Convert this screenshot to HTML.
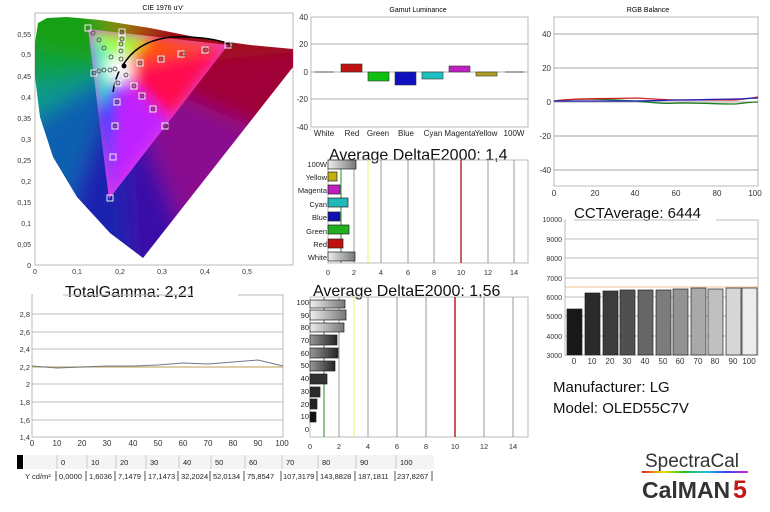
<!DOCTYPE html>
<html><head><meta charset="utf-8"><style>
body{margin:0;background:#fff;}
svg{display:block;font-family:"Liberation Sans",sans-serif;}
</style></head><body>
<svg width="770" height="512" viewBox="0 0 770 512" xmlns="http://www.w3.org/2000/svg">
<defs>
<clipPath id="loc"><path d="M143,258 L110,233 L77,197 L53,157 L40,117 L35,77 L35,43 L38,23 L47,18 L67,17 L100,20 L150,28 L200,38 L250,45 L293,49 L293,67 Z"/></clipPath>
<clipPath id="tri"><path d="M88,29 L228,45 L109,199 Z"/></clipPath>
<filter id="bl" x="-20%" y="-20%" width="140%" height="140%"><feGaussianBlur stdDeviation="10"/></filter>
<filter id="bl2" x="-20%" y="-20%" width="140%" height="140%"><feGaussianBlur stdDeviation="7"/></filter>
<linearGradient id="gw" x1="0" x2="1"><stop offset="0" stop-color="#eee"/><stop offset="1" stop-color="#777"/></linearGradient>
<linearGradient id="gk" x1="0" x2="1"><stop offset="0" stop-color="#999"/><stop offset="1" stop-color="#222"/></linearGradient>
<linearGradient id="rb" x1="0" x2="1"><stop offset="0" stop-color="#e02020"/><stop offset=".2" stop-color="#f0e000"/><stop offset=".4" stop-color="#20c020"/><stop offset=".6" stop-color="#20c0e0"/><stop offset=".8" stop-color="#4040f0"/><stop offset="1" stop-color="#e020e0"/></linearGradient>
</defs>

<!-- CIE -->
<text x="163" y="10" font-size="7" text-anchor="middle">CIE 1976 u'v'</text>
<rect x="35" y="13" width="258" height="252" fill="none" stroke="#bbb"/>
<g clip-path="url(#loc)">
 <g filter="url(#bl)">
  <path d="M119,69 L-100,100 L-100,20 Z" fill="#10a040"/>
  <path d="M119,69 L-100,20 L60,-100 Z" fill="#18a018"/>
  <path d="M119,69 L60,-100 L150,-100 Z" fill="#7a9010"/>
  <path d="M119,69 L150,-100 L260,-100 Z" fill="#a85010"/>
  <path d="M119,69 L260,-100 L420,40 Z" fill="#a00818"/>
  <path d="M119,69 L420,40 L420,200 Z" fill="#a00038"/>
  <path d="M119,69 L420,200 L250,400 Z" fill="#8a0a90"/>
  <path d="M119,69 L250,400 L140,400 Z" fill="#3a10a8"/>
  <path d="M119,69 L140,400 L0,400 Z" fill="#1a20b0"/>
  <path d="M119,69 L0,400 L-100,200 Z" fill="#1060b0"/>
  <path d="M119,69 L-100,200 L-100,100 Z" fill="#109888"/>
 </g>
</g>
<g clip-path="url(#tri)">
 <rect x="80" y="20" width="160" height="185" fill="#e040e0"/>
 <g filter="url(#bl2)">
  <path d="M119,69 L88,29 L150,36 Z" fill="#a0ff30"/>
  <path d="M119,69 L150,36 L228,45 Z" fill="#ff5000"/>
  <path d="M119,69 L228,45 L170,120 Z" fill="#ff0a50"/>
  <path d="M119,69 L170,120 L109,199 Z" fill="#c020ff"/>
  <path d="M119,69 L109,199 L98,110 Z" fill="#2040ff"/>
  <path d="M119,69 L98,110 L88,29 Z" fill="#30f0c0"/>
  <circle cx="119" cy="69" r="14" fill="#fff"/>
 </g>
</g>
<g font-size="7" fill="#333">
 <text x="31" y="37" text-anchor="end">0,55</text><text x="31" y="57" text-anchor="end">0,5</text><text x="31" y="79" text-anchor="end">0,45</text>
 <text x="31" y="100" text-anchor="end">0,4</text><text x="31" y="121" text-anchor="end">0,35</text><text x="31" y="142" text-anchor="end">0,3</text>
 <text x="31" y="163" text-anchor="end">0,25</text><text x="31" y="184" text-anchor="end">0,2</text><text x="31" y="205" text-anchor="end">0,15</text>
 <text x="31" y="226" text-anchor="end">0,1</text><text x="31" y="247" text-anchor="end">0,05</text><text x="31" y="268" text-anchor="end">0</text>
 <text x="35" y="274" text-anchor="middle">0</text><text x="77" y="274" text-anchor="middle">0,1</text><text x="120" y="274" text-anchor="middle">0,2</text>
 <text x="162" y="274" text-anchor="middle">0,3</text><text x="205" y="274" text-anchor="middle">0,4</text><text x="247" y="274" text-anchor="middle">0,5</text>
</g>
<path d="M113,92 Q116,73 125,62 Q140,40 172,37 Q207,36 230,44" fill="none" stroke="#000" stroke-width="1.5"/>
<g fill="none" stroke="#eee" stroke-width="1">
 <rect x="85" y="25" width="6" height="6"/><rect x="225" y="42" width="6" height="6"/><rect x="107" y="195" width="6" height="6"/><rect x="115" y="64" width="7" height="7" fill="#fff"/>
 <rect x="137" y="60" width="6" height="6"/><rect x="158" y="56" width="6" height="6"/><rect x="178" y="51" width="6" height="6"/><rect x="202" y="47" width="6" height="6"/>
 <rect x="115" y="80" width="6" height="6"/><rect x="114" y="99" width="6" height="6"/><rect x="112" y="123" width="6" height="6"/><rect x="110" y="154" width="6" height="6"/>
 <rect x="91" y="70" width="6" height="6"/><rect x="123" y="72" width="6" height="6"/><rect x="131" y="83" width="6" height="6"/><rect x="139" y="93" width="6" height="6"/><rect x="150" y="106" width="6" height="6"/><rect x="162" y="123" width="6" height="6"/>
 <rect x="119" y="29" width="6" height="6"/><rect x="119" y="36" width="6" height="6"/><rect x="118" y="41" width="6" height="6"/><rect x="118" y="48" width="6" height="6"/>
</g>
<g fill="none" stroke="#444" stroke-width=".8">
 <circle cx="93" cy="33" r="2"/><circle cx="99" cy="40" r="2"/><circle cx="104" cy="48" r="2"/><circle cx="111" cy="57" r="2"/>
 <circle cx="94" cy="73" r="2"/><circle cx="99" cy="71" r="2"/><circle cx="104" cy="70" r="2"/><circle cx="110" cy="70" r="2"/><circle cx="115" cy="69" r="2"/>
 <circle cx="122" cy="32" r="2"/><circle cx="122" cy="39" r="2"/><circle cx="121" cy="44" r="2"/><circle cx="121" cy="51" r="2"/><circle cx="121" cy="59" r="2"/>
 <circle cx="140" cy="63" r="2"/><circle cx="161" cy="59" r="2"/><circle cx="183" cy="54" r="2"/><circle cx="206" cy="50" r="2"/><circle cx="231" cy="45" r="2"/>
 <circle cx="126" cy="75" r="2"/><circle cx="134" cy="86" r="2"/><circle cx="142" cy="96" r="2"/><circle cx="153" cy="109" r="2"/><circle cx="166" cy="126" r="2"/>
 <circle cx="118" cy="83" r="2"/><circle cx="117" cy="102" r="2"/><circle cx="115" cy="126" r="2"/>
</g>
<circle cx="124" cy="66" r="2.5" fill="#000"/>

<!-- Gamut Luminance -->
<text x="418" y="12" font-size="7" text-anchor="middle">Gamut Luminance</text>
<rect x="311" y="17" width="217" height="110" fill="none" stroke="#bbb"/>
<g stroke="#999" stroke-width=".8"><line x1="311" y1="44" x2="528" y2="44"/><line x1="311" y1="72" x2="528" y2="72"/><line x1="311" y1="99" x2="528" y2="99"/></g>
<g font-size="8" fill="#333" text-anchor="end"><text x="308" y="20">40</text><text x="308" y="47">20</text><text x="308" y="75">0</text><text x="308" y="102">-20</text><text x="308" y="130">-40</text></g>
<line x1="315" y1="72" x2="334" y2="72" stroke="#555"/>
<line x1="505" y1="72" x2="524" y2="72" stroke="#555"/>
<rect x="341" y="64" width="21" height="8" fill="#c01010" stroke="#333" stroke-width=".6"/>
<rect x="368" y="72" width="21" height="9" fill="#10c010" stroke="#333" stroke-width=".6"/>
<rect x="395" y="72" width="21" height="13" fill="#1010c0" stroke="#333" stroke-width=".6"/>
<rect x="422" y="72" width="21" height="7" fill="#20c0c0" stroke="#333" stroke-width=".6"/>
<rect x="449" y="66" width="21" height="6" fill="#c020c0" stroke="#333" stroke-width=".6"/>
<rect x="476" y="72" width="21" height="4" fill="#b0a020" stroke="#333" stroke-width=".6"/>
<g font-size="8" fill="#222" text-anchor="middle"><text x="324" y="136">White</text><text x="352" y="136">Red</text><text x="378" y="136">Green</text><text x="406" y="136">Blue</text><text x="433" y="136">Cyan</text><text x="460" y="136">Magenta</text><text x="486" y="136">Yellow</text><text x="514" y="136">100W</text></g>

<!-- RGB Balance -->
<text x="648" y="12" font-size="7" text-anchor="middle">RGB Balance</text>
<rect x="554" y="17" width="204" height="169" fill="none" stroke="#bbb"/>
<g stroke="#888" stroke-width=".8"><line x1="554" y1="34" x2="758" y2="34"/><line x1="554" y1="68" x2="758" y2="68"/><line x1="554" y1="102" x2="758" y2="102"/><line x1="554" y1="136" x2="758" y2="136"/><line x1="554" y1="170" x2="758" y2="170"/></g>
<g font-size="8" fill="#333" text-anchor="end"><text x="551" y="37">40</text><text x="551" y="71">20</text><text x="551" y="105">0</text><text x="551" y="139">-20</text><text x="551" y="173">-40</text></g>
<g font-size="8" fill="#333" text-anchor="middle"><text x="554" y="196">0</text><text x="595" y="196">20</text><text x="635" y="196">40</text><text x="676" y="196">60</text><text x="717" y="196">80</text><text x="755" y="196">100</text></g>
<path d="M554,101 C575,98 600,99 635,101 C655,103 665,104 680,103 C700,103 720,104 735,104 C745,103 752,102 758,102" fill="none" stroke="#208020" stroke-width="1.3"/>
<path d="M554,101 C575,98 600,99 635,98 C655,99 665,100 680,100 C700,100 720,100 735,100 C745,99 752,98 758,97" fill="none" stroke="#d02020" stroke-width="1.3"/>
<path d="M554,101 C575,101 600,101 635,101 C655,101 665,100 680,100 C700,100 720,99 735,99 C745,99 752,98 758,98" fill="none" stroke="#2020c0" stroke-width="1.3"/>

<!-- CCT -->
<text x="574" y="218" font-size="15" fill="#111">CCTAverage: 6444</text>
<rect x="565" y="220" width="193" height="135" fill="none" stroke="#bbb"/>
<rect x="566" y="219" width="8" height="3" fill="#fff"/><rect x="698" y="219" width="18" height="3" fill="#fff"/>
<g stroke="#aaa" stroke-width=".8"><line x1="565" y1="239" x2="758" y2="239"/><line x1="565" y1="258" x2="758" y2="258"/><line x1="565" y1="278" x2="758" y2="278"/><line x1="565" y1="297" x2="758" y2="297"/><line x1="565" y1="316" x2="758" y2="316"/><line x1="565" y1="336" x2="758" y2="336"/></g>
<line x1="565" y1="287" x2="758" y2="287" stroke="#f0b070" stroke-width=".8"/>
<g font-size="7" fill="#333" text-anchor="end"><text x="562" y="222">10000</text><text x="562" y="242">9000</text><text x="562" y="261">8000</text><text x="562" y="281">7000</text><text x="562" y="300">6000</text><text x="562" y="319">5000</text><text x="562" y="339">4000</text><text x="562" y="358">3000</text></g>
<g stroke="#222" stroke-width=".7">
<rect x="567" y="309" width="15" height="46" fill="#181818"/>
<rect x="585" y="293" width="15" height="62" fill="#2a2a2a"/>
<rect x="603" y="291" width="15" height="64" fill="#3c3c3c"/>
<rect x="620" y="290" width="15" height="65" fill="#505050"/>
<rect x="638" y="290" width="15" height="65" fill="#666"/>
<rect x="656" y="290" width="15" height="65" fill="#7c7c7c"/>
<rect x="673" y="289" width="15" height="66" fill="#939393"/>
<rect x="691" y="288" width="15" height="67" fill="#a9a9a9"/>
<rect x="708" y="289" width="15" height="66" fill="#c0c0c0"/>
<rect x="726" y="288" width="15" height="67" fill="#d6d6d6"/>
<rect x="742" y="288" width="15" height="67" fill="#ececec"/>
</g>
<g font-size="8" fill="#333" text-anchor="middle"><text x="574" y="364">0</text><text x="592" y="364">10</text><text x="610" y="364">20</text><text x="627" y="364">30</text><text x="645" y="364">40</text><text x="663" y="364">50</text><text x="680" y="364">60</text><text x="698" y="364">70</text><text x="715" y="364">80</text><text x="733" y="364">90</text><text x="749" y="364">100</text></g>

<!-- DeltaE top -->
<text x="329" y="160" font-size="16" fill="#111">Average DeltaE2000: 1,4</text>
<rect x="328" y="160" width="200" height="103" fill="none" stroke="#bbb"/>
<g stroke="#999" stroke-width="1"><line x1="354" y1="160" x2="354" y2="263"/><line x1="381" y1="160" x2="381" y2="263"/><line x1="408" y1="160" x2="408" y2="263"/><line x1="434" y1="160" x2="434" y2="263"/><line x1="488" y1="160" x2="488" y2="263"/><line x1="514" y1="160" x2="514" y2="263"/></g>
<line x1="341" y1="160" x2="341" y2="263" stroke="#2a8a2a"/>
<line x1="368" y1="160" x2="368" y2="263" stroke="#f0f060"/>
<line x1="461" y1="160" x2="461" y2="263" stroke="#b03030" stroke-width="1.5"/>
<g stroke="#222" stroke-width=".7">
<rect x="328" y="160" width="28" height="9" fill="url(#gw)"/>
<rect x="328" y="172" width="9" height="9" fill="#c0b010"/>
<rect x="328" y="185" width="12" height="9" fill="#c020c0"/>
<rect x="328" y="198" width="20" height="9" fill="#20b8b8"/>
<rect x="328" y="212" width="12" height="9" fill="#1010b0"/>
<rect x="328" y="225" width="21" height="9" fill="#20b020"/>
<rect x="328" y="239" width="15" height="9" fill="#c01010"/>
<rect x="328" y="252" width="27" height="9" fill="url(#gw)"/>
</g>
<g font-size="7.5" fill="#222" text-anchor="end"><text x="327" y="167">100W</text><text x="327" y="180">Yellow</text><text x="327" y="193">Magenta</text><text x="327" y="207">Cyan</text><text x="327" y="220">Blue</text><text x="327" y="234">Green</text><text x="327" y="247">Red</text><text x="327" y="260">White</text></g>
<g font-size="7.5" fill="#333" text-anchor="middle"><text x="328" y="275">0</text><text x="354" y="275">2</text><text x="381" y="275">4</text><text x="408" y="275">6</text><text x="434" y="275">8</text><text x="461" y="275">10</text><text x="488" y="275">12</text><text x="514" y="275">14</text></g>

<!-- DeltaE bottom -->
<text x="313" y="296" font-size="16" fill="#111">Average DeltaE2000: 1,56</text>
<rect x="310" y="297" width="218" height="140" fill="none" stroke="#bbb"/>
<g stroke="#999" stroke-width="1"><line x1="339" y1="297" x2="339" y2="437"/><line x1="368" y1="297" x2="368" y2="437"/><line x1="397" y1="297" x2="397" y2="437"/><line x1="426" y1="297" x2="426" y2="437"/><line x1="484" y1="297" x2="484" y2="437"/><line x1="513" y1="297" x2="513" y2="437"/></g>
<line x1="324" y1="297" x2="324" y2="437" stroke="#2a8a2a"/>
<line x1="354" y1="297" x2="354" y2="437" stroke="#f0f060"/>
<line x1="455" y1="297" x2="455" y2="437" stroke="#c02020" stroke-width="1.5"/>
<g stroke="#222" stroke-width=".7">
<rect x="310" y="300" width="35" height="8" fill="url(#gw)"/>
<rect x="310" y="310" width="36" height="10" fill="url(#gw)"/>
<rect x="310" y="323" width="34" height="9" fill="url(#gw)"/>
<rect x="310" y="335" width="27" height="10" fill="url(#gk)"/>
<rect x="310" y="348" width="28" height="10" fill="url(#gk)"/>
<rect x="310" y="361" width="25" height="10" fill="url(#gk)"/>
<rect x="310" y="374" width="17" height="10" fill="#333"/>
<rect x="310" y="387" width="10" height="10" fill="#2a2a2a"/>
<rect x="310" y="399" width="7" height="10" fill="#222"/>
<rect x="310" y="412" width="6" height="10" fill="#111"/>
</g>
<g font-size="7.5" fill="#222" text-anchor="end"><text x="309" y="305">100</text><text x="309" y="318">90</text><text x="309" y="330">80</text><text x="309" y="343">70</text><text x="309" y="356">60</text><text x="309" y="368">50</text><text x="309" y="381">40</text><text x="309" y="394">30</text><text x="309" y="407">20</text><text x="309" y="419">10</text><text x="309" y="432">0</text></g>
<g font-size="7.5" fill="#333" text-anchor="middle"><text x="310" y="449">0</text><text x="339" y="449">2</text><text x="368" y="449">4</text><text x="397" y="449">6</text><text x="426" y="449">8</text><text x="455" y="449">10</text><text x="484" y="449">12</text><text x="513" y="449">14</text></g>

<!-- Gamma -->
<text x="65" y="297" font-size="16" fill="#111">TotalGamma: 2,21</text>
<rect x="32" y="295" width="251" height="142" fill="none" stroke="#bbb"/>
<rect x="33" y="293" width="30" height="4" fill="#fff"/><rect x="193" y="293" width="45" height="4" fill="#fff"/>
<g stroke="#aaa" stroke-width=".8"><line x1="32" y1="314" x2="283" y2="314"/><line x1="32" y1="332" x2="283" y2="332"/><line x1="32" y1="349" x2="283" y2="349"/><line x1="32" y1="367" x2="283" y2="367"/><line x1="32" y1="384" x2="283" y2="384"/><line x1="32" y1="402" x2="283" y2="402"/><line x1="32" y1="420" x2="283" y2="420"/></g>
<g font-size="7.5" fill="#333" text-anchor="end"><text x="30" y="317">2,8</text><text x="30" y="335">2,6</text><text x="30" y="352">2,4</text><text x="30" y="370">2,2</text><text x="30" y="387">2</text><text x="30" y="405">1,8</text><text x="30" y="423">1,6</text><text x="30" y="440">1,4</text></g>
<g font-size="8" fill="#333" text-anchor="middle"><text x="32" y="446">0</text><text x="57" y="446">10</text><text x="82" y="446">20</text><text x="107" y="446">30</text><text x="133" y="446">40</text><text x="158" y="446">50</text><text x="183" y="446">60</text><text x="208" y="446">70</text><text x="233" y="446">80</text><text x="258" y="446">90</text><text x="282" y="446">100</text></g>
<line x1="32" y1="367" x2="283" y2="367" stroke="#c8b070" stroke-width="1.3"/>
<polyline points="32,366 57,368 82,367 107,366 133,366 158,365 183,363 208,364 233,362 258,360 283,366" fill="none" stroke="#707888" stroke-width="1"/>

<!-- table -->
<rect x="17" y="455" width="6" height="14" fill="#000"/>
<rect x="24" y="455" width="410" height="14" fill="#f4f4f4"/>
<g font-size="7.5" fill="#222"><text x="61" y="465">0</text><text x="91" y="465">10</text><text x="120" y="465">20</text><text x="150" y="465">30</text><text x="183" y="465">40</text><text x="215" y="465">50</text><text x="249" y="465">60</text><text x="286" y="465">70</text><text x="322" y="465">80</text><text x="360" y="465">90</text><text x="400" y="465">100</text></g>
<g stroke="#ccc"><line x1="57" y1="455" x2="57" y2="469"/><line x1="87" y1="455" x2="87" y2="469"/><line x1="116" y1="455" x2="116" y2="469"/><line x1="146" y1="455" x2="146" y2="469"/><line x1="179" y1="455" x2="179" y2="469"/><line x1="211" y1="455" x2="211" y2="469"/><line x1="245" y1="455" x2="245" y2="469"/><line x1="282" y1="455" x2="282" y2="469"/><line x1="318" y1="455" x2="318" y2="469"/><line x1="356" y1="455" x2="356" y2="469"/><line x1="396" y1="455" x2="396" y2="469"/></g>
<g font-size="7.5" fill="#222"><text x="25" y="479">Y cd/m²</text><text x="59" y="479">0,0000</text><text x="89" y="479">1,6036</text><text x="118" y="479">7,1479</text><text x="148" y="479">17,1473</text><text x="181" y="479">32,2024</text><text x="213" y="479">52,0134</text><text x="247" y="479">75,8547</text><text x="283" y="479">107,3179</text><text x="320" y="479">143,8828</text><text x="358" y="479">187,1811</text><text x="397" y="479">237,8267</text></g>
<g stroke="#555"><line x1="56" y1="471" x2="56" y2="481"/><line x1="86" y1="471" x2="86" y2="481"/><line x1="115" y1="471" x2="115" y2="481"/><line x1="145" y1="471" x2="145" y2="481"/><line x1="178" y1="471" x2="178" y2="481"/><line x1="210" y1="471" x2="210" y2="481"/><line x1="244" y1="471" x2="244" y2="481"/><line x1="281" y1="471" x2="281" y2="481"/><line x1="317" y1="471" x2="317" y2="481"/><line x1="355" y1="471" x2="355" y2="481"/><line x1="395" y1="471" x2="395" y2="481"/><line x1="432" y1="471" x2="432" y2="481"/></g>

<!-- right info -->
<text x="553" y="392" font-size="15" fill="#111">Manufacturer: LG</text>
<text x="553" y="413" font-size="15" fill="#111">Model: OLED55C7V</text>
<text x="645" y="467" font-size="19" fill="#333">SpectraCal</text>
<rect x="642" y="471" width="106" height="2" fill="url(#rb)"/>
<text x="642" y="498" font-size="23" font-weight="bold" fill="#333">CalMAN</text>
<text x="733" y="498" font-size="25" font-weight="bold" fill="#c01818">5</text>
</svg>
</body></html>
